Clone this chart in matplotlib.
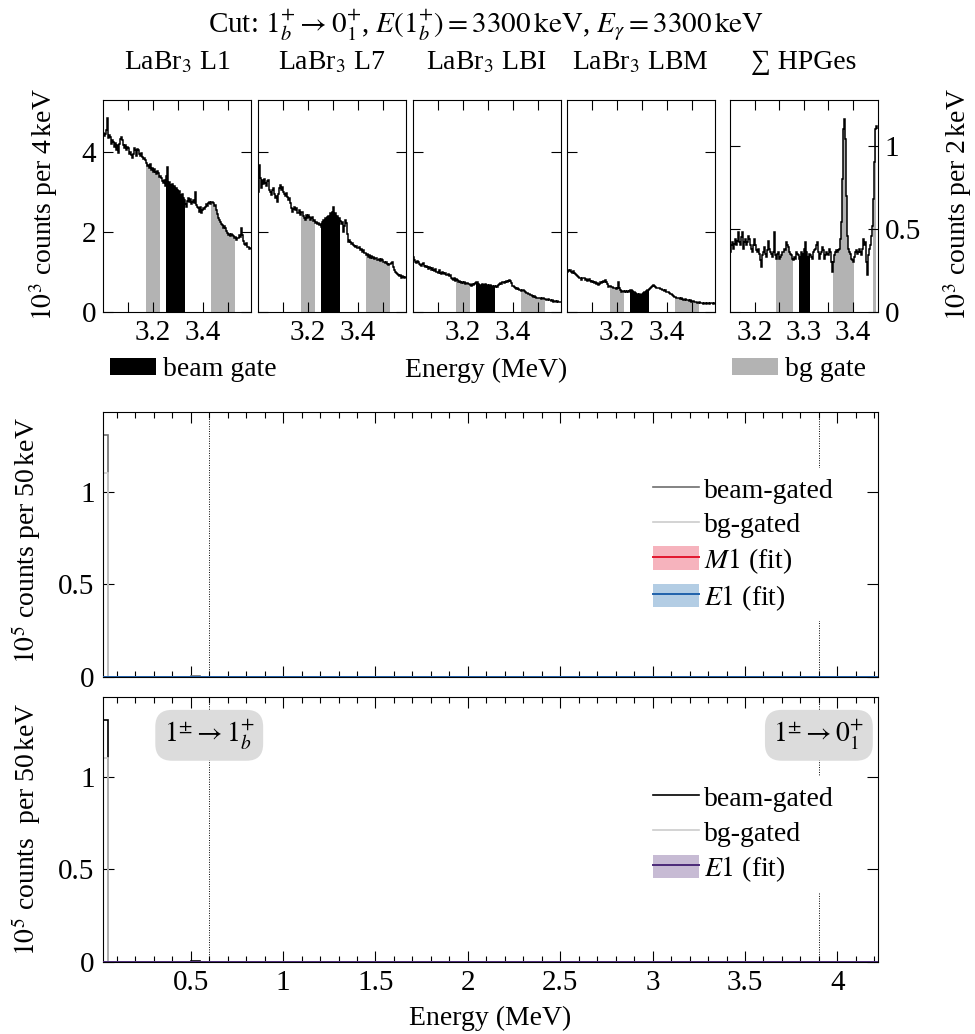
import numpy as np
import matplotlib
matplotlib.use('Agg')
import matplotlib.pyplot as plt
from matplotlib.patches import Patch
from matplotlib.lines import Line2D
from matplotlib.ticker import FixedLocator, FormatStrFormatter

plt.rcParams['font.family'] = ['Liberation Serif', 'DejaVu Serif']
plt.rcParams['mathtext.fontset'] = 'stix'
plt.rcParams['font.size'] = 20
plt.rcParams['xtick.labelsize'] = 21
plt.rcParams['ytick.labelsize'] = 21
plt.rcParams['axes.linewidth'] = 0.8
plt.rcParams['xtick.direction'] = 'in'
plt.rcParams['ytick.direction'] = 'in'

# --- zoomed gate spectra (10^3 counts per bin) ---
labr_start, labr_bin = 3.000, 0.004
hpge_start, hpge_bin = 3.150, 0.002

l1 = [4.47, 4.40, 4.45, 4.55, 4.84, 4.35, 4.42, 4.38, 4.20, 4.30,
      4.26, 4.12, 4.22, 4.05, 4.17, 3.97, 4.20, 4.32, 4.38, 4.30,
      4.18, 4.10, 4.17, 4.05, 4.12, 4.09, 3.95, 4.00, 3.92, 3.84,
      3.95, 4.10, 4.05, 3.90, 4.08, 4.05, 3.95, 3.90, 3.98, 3.88,
      3.82, 3.86, 3.80, 3.72, 3.65, 3.68, 3.60, 3.70, 3.55, 3.59,
      3.50, 3.58, 3.51, 3.45, 3.52, 3.47, 3.38, 3.40, 3.34, 3.28,
      3.22, 3.30, 3.15, 3.40, 3.63, 3.20, 3.25, 3.18, 3.12, 3.20,
      3.09, 3.15, 3.00, 3.10, 3.05, 2.95, 3.02, 2.93, 2.85, 2.95,
      2.84, 2.80, 2.70, 2.63, 2.78, 2.84, 2.75, 2.82, 2.70, 2.76,
      2.80, 2.72, 3.00, 2.68, 2.62, 2.59, 2.50, 2.62, 2.48, 2.55,
      2.60, 2.58, 2.63, 2.70, 2.66, 2.72, 2.74, 2.70, 2.75, 2.76,
      2.72, 2.65, 2.68, 2.55, 2.45, 2.34, 2.30, 2.24, 2.20, 2.18,
      2.10, 2.15, 2.09, 2.02, 1.98, 1.93, 1.95, 1.90, 1.96, 1.93,
      1.90, 1.85, 1.88, 1.80, 1.86, 1.84, 1.92, 1.88, 2.10, 1.93,
      1.78, 1.70, 1.68, 1.72, 1.62, 1.63, 1.58, 1.60]

l7 = [3.00, 3.67, 3.35, 3.10, 3.30, 3.20, 3.32, 3.22, 3.15, 3.28,
      3.30, 3.05, 3.00, 2.92, 3.05, 3.09, 2.95, 2.85, 2.90, 2.76,
      2.95, 3.10, 3.18, 3.05, 3.12, 3.00, 2.95, 2.90, 2.98, 2.88,
      2.80, 2.85, 2.72, 2.60, 2.51, 2.58, 2.62, 2.55, 2.60, 2.48,
      2.47, 2.55, 2.42, 2.50, 2.51, 2.40, 2.36, 2.30, 2.42, 2.35,
      2.43, 2.38, 2.30, 2.35, 2.38, 2.28, 2.30, 2.22, 2.25, 2.20,
      2.22, 2.18, 2.20, 2.13, 2.25, 2.30, 2.28, 2.35, 2.32, 2.38,
      2.40, 2.35, 2.47, 2.42, 2.50, 2.63, 2.45, 2.47, 2.38, 2.40,
      2.30, 2.35, 2.28, 2.20, 2.26, 2.00, 2.15, 2.30, 2.22, 1.95,
      1.76, 1.80, 1.75, 1.70, 1.72, 1.68, 1.65, 1.63, 1.66, 1.60,
      1.59, 1.62, 1.55, 1.58, 1.51, 1.55, 1.48, 1.47, 1.42, 1.45,
      1.38, 1.42, 1.36, 1.40, 1.34, 1.38, 1.32, 1.34, 1.36, 1.30,
      1.30, 1.33, 1.28, 1.32, 1.30, 1.26, 1.25, 1.22, 1.24, 1.20,
      1.18, 1.20, 1.19, 1.22, 1.26, 1.12, 1.05, 1.01, 0.98, 0.95,
      0.93, 0.90, 0.92, 0.86, 0.90, 0.88, 0.85, 0.87]

lbi = [1.38, 1.30, 1.26, 1.22, 1.28, 1.26, 1.20, 1.18, 1.15, 1.20,
       1.22, 1.15, 1.12, 1.16, 1.13, 1.08, 1.12, 1.09, 1.05, 1.10,
       1.05, 1.02, 1.08, 1.00, 1.01, 0.98, 1.04, 0.97, 0.95, 1.00,
       0.97, 0.94, 0.98, 0.92, 0.92, 0.95, 0.90, 0.92, 0.86, 0.82,
       0.80, 0.84, 0.78, 0.82, 0.80, 0.76, 0.78, 0.76, 0.73, 0.75,
       0.72, 0.74, 0.70, 0.73, 0.72, 0.69, 0.70, 0.68, 0.66, 0.69,
       0.68, 0.70, 0.72, 0.74, 0.76, 0.70, 0.68, 0.68, 0.66, 0.69,
       0.68, 0.66, 0.69, 0.67, 0.68, 0.66, 0.68, 0.68, 0.65, 0.64,
       0.63, 0.65, 0.62, 0.64, 0.63, 0.67, 0.70, 0.72, 0.70, 0.74,
       0.76, 0.73, 0.75, 0.77, 0.76, 0.78, 0.80, 0.78, 0.72, 0.66,
       0.64, 0.62, 0.60, 0.58, 0.60, 0.57, 0.55, 0.55, 0.53, 0.56,
       0.55, 0.52, 0.50, 0.48, 0.47, 0.46, 0.45, 0.43, 0.42, 0.40,
       0.38, 0.40, 0.37, 0.36, 0.34, 0.36, 0.35, 0.34, 0.33, 0.35,
       0.34, 0.32, 0.33, 0.31, 0.30, 0.32, 0.30, 0.30, 0.28, 0.29,
       0.26, 0.28, 0.27, 0.26, 0.27, 0.26, 0.25, 0.26]

lbm = [1.00, 1.05, 1.02, 1.06, 1.01, 0.98, 1.02, 0.97, 0.95, 0.92,
       0.90, 0.88, 0.86, 0.84, 0.80, 0.84, 0.86, 0.84, 0.80, 0.82,
       0.78, 0.80, 0.82, 0.78, 0.76, 0.78, 0.74, 0.72, 0.74, 0.70,
       0.72, 0.68, 0.70, 0.74, 0.72, 0.75, 0.78, 0.76, 0.80, 0.76,
       0.70, 0.63, 0.66, 0.64, 0.63, 0.62, 0.60, 0.59, 0.61, 0.58,
       0.60, 0.76, 0.59, 0.55, 0.51, 0.53, 0.52, 0.51, 0.53, 0.50,
       0.52, 0.51, 0.53, 0.55, 0.55, 0.52, 0.50, 0.51, 0.48, 0.46,
       0.45, 0.43, 0.44, 0.42, 0.43, 0.46, 0.48, 0.51, 0.50, 0.53,
       0.55, 0.55, 0.58, 0.60, 0.63, 0.65, 0.68, 0.66, 0.62, 0.59,
       0.61, 0.60, 0.59, 0.57, 0.58, 0.56, 0.55, 0.53, 0.54, 0.51,
       0.50, 0.49, 0.47, 0.46, 0.44, 0.42, 0.40, 0.38, 0.37, 0.36,
       0.35, 0.34, 0.36, 0.33, 0.34, 0.32, 0.31, 0.30, 0.32, 0.30,
       0.29, 0.30, 0.28, 0.29, 0.26, 0.27, 0.28, 0.26, 0.25, 0.24,
       0.23, 0.22, 0.24, 0.22, 0.23, 0.22, 0.21, 0.23, 0.22, 0.21,
       0.23, 0.22, 0.21, 0.22, 0.23, 0.22, 0.21, 0.22]

hpge = [0.36, 0.40, 0.42, 0.38, 0.41, 0.44, 0.40, 0.43, 0.48, 0.42,
        0.40, 0.45, 0.48, 0.38, 0.42, 0.44, 0.40, 0.42, 0.46, 0.44,
        0.40, 0.38, 0.36, 0.40, 0.44, 0.40, 0.37, 0.36, 0.38, 0.35,
        0.34, 0.31, 0.27, 0.34, 0.36, 0.39, 0.35, 0.33, 0.37, 0.43,
        0.38, 0.36, 0.35, 0.33, 0.36, 0.48, 0.34, 0.32, 0.35, 0.36,
        0.32, 0.33, 0.34, 0.36, 0.36, 0.38, 0.37, 0.42, 0.40, 0.39,
        0.36, 0.35, 0.34, 0.32, 0.31, 0.33, 0.32, 0.36, 0.35, 0.34,
        0.32, 0.33, 0.36, 0.34, 0.35, 0.38, 0.42, 0.36, 0.33, 0.32,
        0.35, 0.34, 0.33, 0.32, 0.36, 0.37, 0.38, 0.40, 0.42, 0.36,
        0.34, 0.32, 0.35, 0.36, 0.39, 0.37, 0.32, 0.34, 0.36, 0.35,
        0.34, 0.38, 0.36, 0.30, 0.24, 0.30, 0.34, 0.36, 0.37, 0.36,
        0.37, 0.38, 0.44, 0.54, 0.80, 1.10, 1.16, 1.04, 0.70, 0.46,
        0.38, 0.36, 0.35, 0.32, 0.31, 0.30, 0.33, 0.36, 0.37, 0.35,
        0.36, 0.38, 0.36, 0.34, 0.38, 0.44, 0.40, 0.42, 0.30, 0.22,
        0.34, 0.38, 0.40, 0.46, 0.52, 0.68, 0.90, 1.10, 1.12, 1.10]

detector_names = ['LaBr$_3$ L1', 'LaBr$_3$ L7', 'LaBr$_3$ LBI', 'LaBr$_3$ LBM', '\u2211 HPGes']
labr_spectra = [l1, l7, lbi, lbm]

# gates (MeV)
labr_beam_gate = (3.25, 3.33)
labr_bg_gates = [(3.17, 3.23), (3.43, 3.53)]
hpge_beam_gate = (3.290, 3.312)
hpge_bg_gates = [(3.244, 3.278), (3.360, 3.402), (3.440, 3.446)]

# --- gated gamma spectra (10^5 counts per 50 keV) ---
main_start, main_bin = 0.0, 0.05
beam_gated = [1.31, 0.0, 0.0, 0.0, 0.0, 0.0, 0.0, 0.0, 0.0, 0.0,
              0.007, 0.0, 0.0, 0.0, 0.0, 0.0, 0.0, 0.0, 0.0, 0.0,
              0.0, 0.0, 0.0, 0.0, 0.0, 0.0, 0.0, 0.0, 0.0, 0.0,
              0.0, 0.0, 0.0, 0.0, 0.0, 0.0, 0.0, 0.0, 0.0, 0.0,
              0.0, 0.0, 0.0, 0.0, 0.0, 0.0, 0.0, 0.0, 0.0, 0.0,
              0.0, 0.0, 0.0, 0.0, 0.0, 0.0, 0.0, 0.0, 0.0, 0.0,
              0.0, 0.0, 0.0, 0.0, 0.0, 0.0, 0.0, 0.0, 0.0, 0.0,
              0.0, 0.0, 0.0, 0.0, 0.0, 0.0, 0.0, 0.0, 0.0, 0.0,
              0.0, 0.0, 0.0, 0.0, 0.0]
bg_gated = [1.10] + [0.0] * 84
# fitted responses are flat at zero on this scale
m1_fit = [0.0] * 85
e1_fit = [0.0] * 85
fit_err = [0.0] * 85

transitions = [0.6, 3.9]
transition_labels = [r'$1^{\pm}\rightarrow 1^{+}_{b}$', r'$1^{\pm}\rightarrow 0^{+}_{1}$']

BG_GREY = '#b3b3b3'
RED, PINK = '#e2162e', '#f6b3bd'
BLUE, LBLUE = '#1f62ab', '#b3cde4'
PURPLE, LPURPLE = '#4b2a78', '#c7bbd4'

W, H = 975, 1034
fig = plt.figure(figsize=(W / 100, H / 100), dpi=100)


def px_axes(x0, x1, y0, y1):
    return fig.add_axes([x0 / W, 1 - y1 / H, (x1 - x0) / W, (y1 - y0) / H])


def fill_gate(ax, edges, vals, gate, color):
    centers = 0.5 * (edges[:-1] + edges[1:])
    m = (centers > gate[0]) & (centers < gate[1])
    ax.bar(edges[:-1][m], vals[m], width=edges[1] - edges[0], align='edge',
           color=color, linewidth=0, zorder=1)


# top row
lefts = [103, 258, 413, 567, 730]
for k in range(5):
    ax = px_axes(lefts[k], lefts[k] + 147.5, 100, 312)
    if k < 4:
        vals = np.array(labr_spectra[k])
        edges = labr_start + labr_bin * np.arange(len(vals) + 1)
        for g in labr_bg_gates:
            fill_gate(ax, edges, vals, g, BG_GREY)
        fill_gate(ax, edges, vals, labr_beam_gate, 'black')
        ax.set_xlim(3.002, 3.590)
        ax.set_ylim(0, 5.3)
        ax.xaxis.set_major_locator(FixedLocator([3.2, 3.4]))
        ax.xaxis.set_minor_locator(FixedLocator([3.1, 3.3, 3.5]))
        ax.yaxis.set_major_locator(FixedLocator([0, 2, 4]))
        ax.yaxis.set_major_formatter(FormatStrFormatter('%g'))
        ax.tick_params(axis='y', which='both', left=True, right=True,
                       labelleft=(k == 0), length=7, width=0.8, pad=5)
    else:
        vals = np.array(hpge)
        edges = hpge_start + hpge_bin * np.arange(len(vals) + 1)
        for g in hpge_bg_gates:
            fill_gate(ax, edges, vals, g, BG_GREY)
        fill_gate(ax, edges, vals, hpge_beam_gate, 'black')
        ax.set_xlim(3.150, 3.450)
        ax.set_ylim(0, 1.275)
        ax.xaxis.set_major_locator(FixedLocator([3.2, 3.3, 3.4]))
        ax.xaxis.set_minor_locator(FixedLocator([3.25, 3.35]))
        ax.yaxis.set_major_locator(FixedLocator([0, 0.5, 1]))
        ax.yaxis.set_major_formatter(FormatStrFormatter('%g'))
        ax.tick_params(axis='y', which='both', left=True, right=True,
                       labelleft=False, labelright=True, length=7, width=0.8, pad=5)
    ax.stairs(vals, edges, baseline=None, color='black', lw=1.1, zorder=3)
    ax.xaxis.set_major_formatter(FormatStrFormatter('%g'))
    ax.tick_params(axis='x', which='both', top=True, bottom=True,
                   length=7, width=0.8, pad=6)
    ax.text(0.5, 1.175, detector_names[k], transform=ax.transAxes,
            ha='center', va='center')

fig.text(486 / W, 1 - 25 / H,
         r'Cut: $1^{+}_{b}\rightarrow 0^{+}_{1}$, $E(1^{+}_{b})=3300\,\mathrm{keV}$, '
         r'$E_{\gamma}=3300\,\mathrm{keV}$', ha='center', va='center', fontsize=21)
fig.text(486 / W, 1 - 370 / H, 'Energy (MeV)', ha='center', va='center')
fig.text(44 / W, 1 - 205 / H, r'$10^3$ counts per 4$\,$keV', rotation=90,
         ha='center', va='center')
fig.text(958 / W, 1 - 205 / H, r'$10^3$ counts per 2$\,$keV', rotation=90,
         ha='center', va='center')

fig.legend(handles=[Patch(facecolor='black', edgecolor='none', label='beam gate')],
           loc='center left', bbox_to_anchor=(110 / W, 1 - 370 / H), frameon=False,
           borderpad=0, borderaxespad=0, handlelength=1.65, handleheight=0.58,
           handletextpad=0.25)
fig.legend(handles=[Patch(facecolor=BG_GREY, edgecolor='none', label='bg gate')],
           loc='center left', bbox_to_anchor=(732 / W, 1 - 370 / H), frameon=False,
           borderpad=0, borderaxespad=0, handlelength=1.65, handleheight=0.58,
           handletextpad=0.25)

# main panels
beam = np.array(beam_gated)
bg = np.array(bg_gated)
m1 = np.array(m1_fit)
e1 = np.array(e1_fit)
err = np.array(fit_err)
main_edges = main_start + main_bin * np.arange(len(beam) + 1)

panels = [(412, 677), (697, 962)]
for p, (y0, y1) in enumerate(panels):
    ax = px_axes(103, 878, y0, y1)
    beam_col = '#6e6e6e' if p == 0 else 'black'
    ax.stairs(beam, main_edges, baseline=None, color=beam_col, lw=1.2, zorder=2)
    ax.stairs(bg, main_edges, baseline=None, color='#cccccc', lw=1.2, zorder=2)
    handles = [Line2D([], [], color=beam_col, lw=1.2),
               Line2D([], [], color='#cccccc', lw=1.2)]
    labels = ['beam-gated', 'bg-gated']
    if p == 0:
        fits = [(m1, RED, PINK, r'$M1$ (fit)'), (e1, BLUE, LBLUE, r'$E1$ (fit)')]
    else:
        fits = [(e1, PURPLE, LPURPLE, r'$E1$ (fit)')]
    for f, lc, bc, lab in fits:
        ax.stairs(f + err, main_edges, baseline=f - err, fill=True, color=bc, lw=0, zorder=3)
        ax.stairs(f, main_edges, baseline=None, color=lc, lw=1.4, zorder=4)
        handles.append((Patch(facecolor=bc, edgecolor='none'), Line2D([], [], color=lc, lw=1.4)))
        labels.append(lab)
    for e in transitions:
        ax.axvline(e, color='black', ls=(0, (1, 1.5)), lw=0.7, zorder=1)
    if p == 1:
        for e, lab in zip(transitions, transition_labels):
            ax.text(e, 1.225, lab, ha='center', va='center', zorder=6,
                    bbox=dict(boxstyle='round,pad=0.3,rounding_size=0.6',
                              facecolor='#dcdcdc', edgecolor='none'))
    top = 0.789 if p == 0 else 0.702
    leg = ax.legend(handles, labels, loc='upper left', bbox_to_anchor=(0.699, top),
                    borderaxespad=0, borderpad=0.3, handlelength=1.65, handleheight=0.93,
                    handletextpad=0.2, labelspacing=0.27, frameon=True, fancybox=False,
                    framealpha=1, facecolor='white', edgecolor='none')
    leg.set_zorder(5)
    ax.set_xlim(0.025, 4.22)
    ax.set_ylim(0, 1.432)
    ax.xaxis.set_major_locator(FixedLocator([0.5, 1, 1.5, 2, 2.5, 3, 3.5, 4]))
    ax.xaxis.set_minor_locator(FixedLocator(np.round(np.arange(0.1, 4.25, 0.1), 1)))
    ax.xaxis.set_major_formatter(FormatStrFormatter('%g'))
    ax.yaxis.set_major_locator(FixedLocator([0, 0.5, 1]))
    ax.yaxis.set_major_formatter(FormatStrFormatter('%g'))
    ax.tick_params(axis='x', which='major', top=True, bottom=True, length=8, width=0.8,
                   pad=6, labelbottom=(p == 1))
    ax.tick_params(axis='x', which='minor', top=True, bottom=True, length=4, width=0.8)
    ax.tick_params(axis='y', which='both', left=True, right=True, length=8, width=0.8, pad=6)

fig.text(26 / W, 1 - 541 / H, r'$10^5$ counts per 50$\,$keV', rotation=90,
         ha='center', va='center')
fig.text(26 / W, 1 - 829 / H, r'$10^5$ counts  per 50$\,$keV', rotation=90,
         ha='center', va='center')
fig.text(490 / W, 1 - 1018 / H, 'Energy (MeV)', ha='center', va='center')

fig.savefig('out.png', dpi=100)
